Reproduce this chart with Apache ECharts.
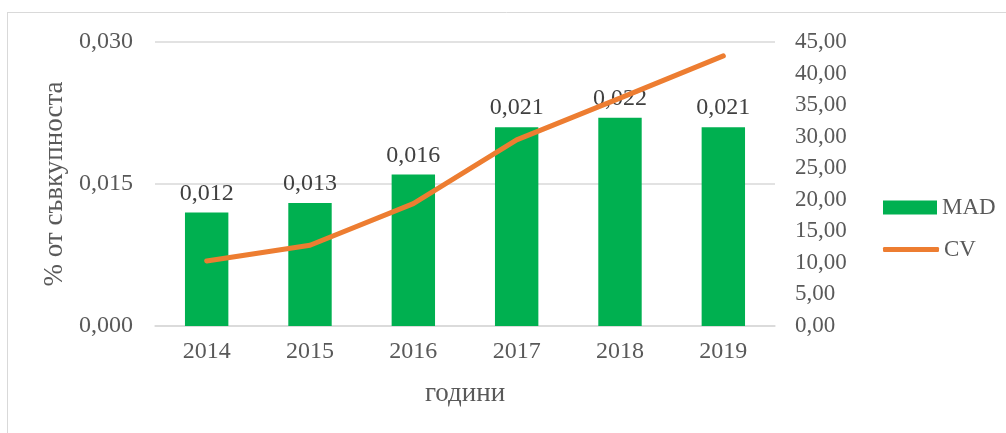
<!DOCTYPE html>
<html>
<head>
<meta charset="utf-8">
<script src="https://cdn.jsdelivr.net/npm/echarts@6/dist/echarts.min.js"></script>
<style>
  html, body { margin: 0; padding: 0; background: #fff; }
  #chart { width: 1006px; height: 433px; }
</style>
</head>
<body>
<div id="chart"></div>
<script>
const years = ["2014", "2015", "2016", "2017", "2018", "2019"];
const madValues = [0.012, 0.013, 0.016, 0.021, 0.022, 0.021];
const cvValues = [10.3, 12.8, 19.4, 29.5, 36.1, 42.8];

const font = "'Liberation Serif', 'Times New Roman', serif";
const textColor = "#595959";

const chart = echarts.init(document.getElementById("chart"));

const option = {
  backgroundColor: "#fff",
  animation: false,
  textStyle: { fontFamily: font },
  grid: {
    left: 155,
    right: 231,
    top: 42,
    bottom: 107,
    containLabel: false,
  },
  legend: [
    {
      left: 878,
      top: 191,
      itemWidth: 54,
      itemHeight: 14,
      itemGap: 4,
      textStyle: { fontFamily: font, fontSize: 23, color: textColor },
      data: [{ name: "MAD", icon: "rect" }],
    },
    {
      left: 878,
      top: 233,
      itemWidth: 56,
      itemHeight: 5,
      itemGap: 4,
      textStyle: { fontFamily: font, fontSize: 23, color: textColor },
      data: [{ name: "CV", icon: "roundRect" }],
    },
  ],
  graphic: [
    {
      type: "line",
      shape: { x1: 7, y1: 12.5, x2: 1006, y2: 12.5 },
      style: { stroke: "#d9d9d9", lineWidth: 1 },
    },
    {
      type: "line",
      shape: { x1: 7.5, y1: 12, x2: 7.5, y2: 433 },
      style: { stroke: "#d9d9d9", lineWidth: 1 },
    },
  ],
  xAxis: {
    type: "category",
    data: years,
    name: "години",
    nameLocation: "middle",
    nameGap: 54,
    nameTextStyle: { fontSize: 27, color: textColor, fontFamily: font },
    axisLine: { lineStyle: { color: "#d9d9d9", width: 1.5 } },
    axisTick: { show: false },
    axisLabel: { fontSize: 24, color: textColor, margin: 14, fontFamily: font },
  },
  yAxis: [
    {
      type: "value",
      min: 0,
      max: 0.03,
      interval: 0.015,
      name: "% от съвкупноста",
      nameLocation: "middle",
      nameGap: 84,
      nameTextStyle: { fontSize: 27, color: textColor, fontFamily: font },
      axisLine: { show: false },
      axisTick: { show: false },
      splitLine: { lineStyle: { color: "#d9d9d9", width: 1.5 } },
      axisLabel: {
        fontSize: 24,
        color: textColor,
        margin: 22,
        fontFamily: font,
        formatter: (v) => v.toFixed(3).replace(".", ","),
      },
    },
    {
      type: "value",
      min: 0,
      max: 45,
      interval: 5,
      position: "right",
      axisLine: { show: false },
      axisTick: { show: false },
      splitLine: { show: false },
      axisLabel: {
        fontSize: 23,
        color: textColor,
        margin: 20,
        fontFamily: font,
        formatter: (v) => v.toFixed(2).replace(".", ","),
      },
    },
  ],
  series: [
    {
      name: "MAD",
      type: "bar",
      data: madValues,
      barWidth: "42%",
      itemStyle: { color: "#00b050" },
      label: {
        show: true,
        position: "top",
        distance: 7,
        fontSize: 24,
        color: "#404040",
        fontFamily: font,
        formatter: (p) => p.value.toFixed(3).replace(".", ","),
      },
    },
    {
      name: "CV",
      type: "line",
      yAxisIndex: 1,
      data: cvValues,
      showSymbol: false,
      symbol: "none",
      lineStyle: { color: "#ed7d31", width: 5, cap: "round" },
      itemStyle: { color: "#ed7d31" },
    },
  ],
};

chart.setOption(option);
</script>
</body>
</html>
